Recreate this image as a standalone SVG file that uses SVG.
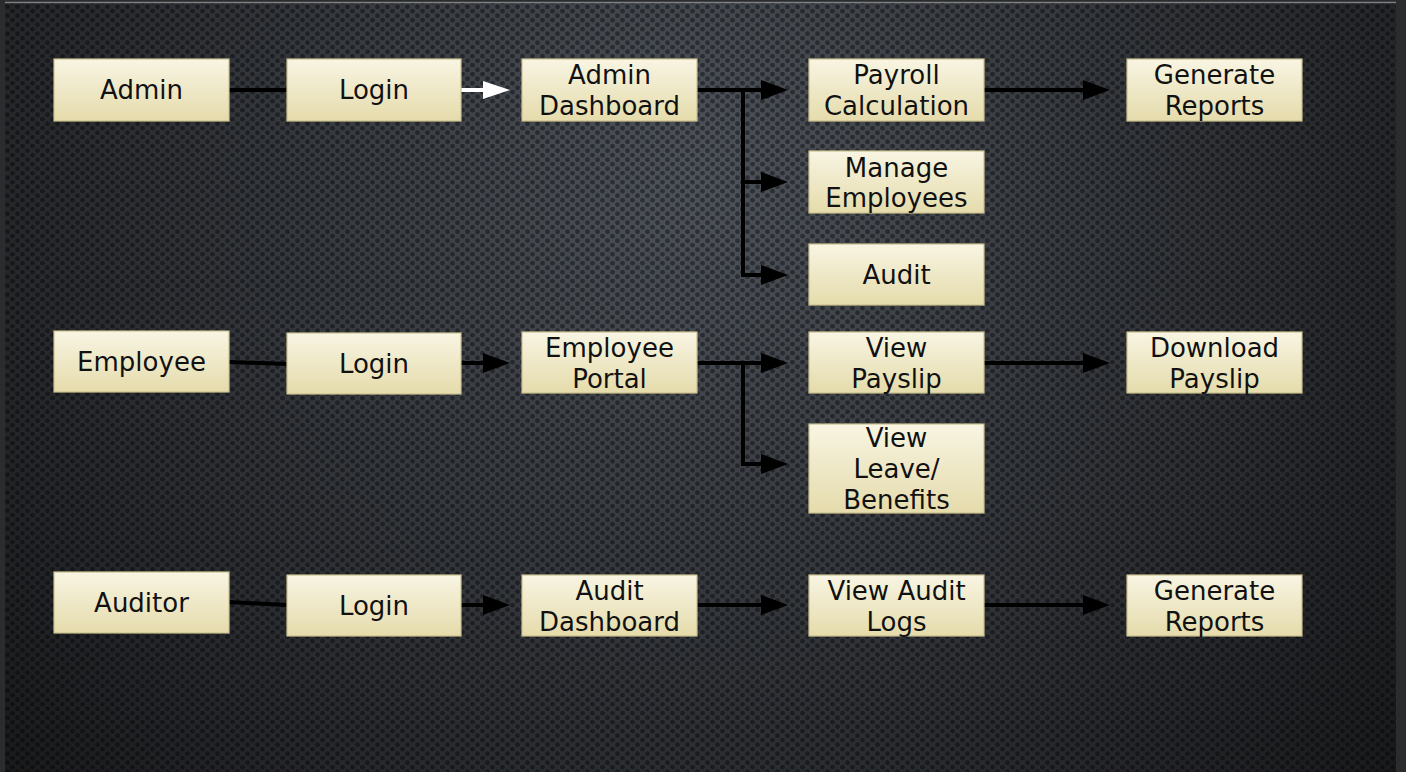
<svg xmlns="http://www.w3.org/2000/svg" width="1406" height="772" viewBox="0 0 1406 772">
<defs>
<radialGradient id="bg" cx="700" cy="180" r="950" gradientUnits="userSpaceOnUse">
<stop offset="0" stop-color="#4e535b"/>
<stop offset="0.45" stop-color="#34373c"/>
<stop offset="1" stop-color="#17181a"/>
</radialGradient>
<pattern id="dots" width="10" height="9" patternUnits="userSpaceOnUse">
<circle cx="2.5" cy="2.2" r="2.4" fill="#000" fill-opacity="0.4"/>
<circle cx="7.5" cy="6.7" r="2.4" fill="#000" fill-opacity="0.4"/>
</pattern>
<linearGradient id="box" x1="0" y1="0" x2="0" y2="1">
<stop offset="0" stop-color="#f8f5e3"/>
<stop offset="1" stop-color="#e5dbab"/>
</linearGradient>
<marker id="ah" markerUnits="userSpaceOnUse" markerWidth="28" markerHeight="22" refX="7" refY="10" orient="auto">
<path d="M0,0 L27,10 L0,20 z" fill="#000"/>
</marker>
<marker id="ahw" markerUnits="userSpaceOnUse" markerWidth="28" markerHeight="22" refX="7" refY="9" orient="auto">
<path d="M0,0 L27,9 L0,18 z" fill="#fff"/>
</marker>
</defs>
<style>
.node rect{fill:url(#box);stroke:#cbc290;stroke-width:1.2}
.node text{font-family:"DejaVu Sans",sans-serif;font-size:26px;fill:#111;text-anchor:middle}
.c{stroke:#000;stroke-width:4;fill:none}
.a{marker-end:url(#ah)}
</style>
<rect x="0" y="0" width="1406" height="772" fill="#2b2c2e"/>
<rect x="5" y="3" width="1391" height="769" fill="url(#bg)"/>
<rect x="5" y="3" width="1391" height="769" fill="url(#dots)"/>
<line x1="5" y1="2.5" x2="1396" y2="2.5" stroke="#7d7f83" stroke-width="1.5"/>

<g id="connectors">
<line class="c" x1="229" y1="90" x2="287" y2="90"/>
<line x1="461" y1="90" x2="490" y2="90" stroke="#fff" stroke-width="4" marker-end="url(#ahw)"/>
<polyline class="c" points="697,90 743,90 743,275"/>
<line class="c a" x1="697" y1="90" x2="768" y2="90"/>
<line class="c a" x1="741" y1="182" x2="768" y2="182"/>
<line class="c a" x1="741" y1="275" x2="768" y2="275"/>
<line class="c a" x1="984" y1="90" x2="1090" y2="90"/>

<line class="c" x1="229" y1="362" x2="287" y2="364"/>
<line class="c a" x1="461" y1="363" x2="490" y2="363"/>
<polyline class="c" points="697,363 743,363 743,464"/>
<line class="c a" x1="697" y1="363" x2="768" y2="363"/>
<line class="c a" x1="741" y1="464" x2="768" y2="464"/>
<line class="c a" x1="984" y1="363" x2="1090" y2="363"/>

<line class="c" x1="229" y1="602" x2="287" y2="605"/>
<line class="c a" x1="461" y1="605" x2="490" y2="605"/>
<line class="c a" x1="697" y1="605" x2="768" y2="605"/>
<line class="c a" x1="984" y1="605" x2="1090" y2="605"/>
</g>

<g id="admin" class="node"><rect x="54" y="59" width="175" height="62"/><text x="141.5" y="99">Admin</text></g>
<g id="login1" class="node"><rect x="287" y="59" width="174" height="62"/><text x="374" y="99">Login</text></g>
<g id="admin-dashboard" class="node"><rect x="522" y="59" width="175" height="62"/><text x="609.5" y="84">Admin</text><text x="609.5" y="115">Dashboard</text></g>
<g id="payroll" class="node"><rect x="809" y="59" width="175" height="62"/><text x="896.5" y="84">Payroll</text><text x="896.5" y="115">Calculation</text></g>
<g id="reports1" class="node"><rect x="1127" y="59" width="175" height="62"/><text x="1214.5" y="84">Generate</text><text x="1214.5" y="115">Reports</text></g>
<g id="manage" class="node"><rect x="809" y="151" width="175" height="62"/><text x="896.5" y="177">Manage</text><text x="896.5" y="207">Employees</text></g>
<g id="audit" class="node"><rect x="809" y="244" width="175" height="61"/><text x="896.5" y="284">Audit</text></g>

<g id="employee" class="node"><rect x="54" y="331" width="175" height="61"/><text x="141.5" y="371">Employee</text></g>
<g id="login2" class="node"><rect x="287" y="333" width="174" height="61"/><text x="374" y="373">Login</text></g>
<g id="portal" class="node"><rect x="522" y="332" width="175" height="61"/><text x="609.5" y="357">Employee</text><text x="609.5" y="388">Portal</text></g>
<g id="payslip" class="node"><rect x="809" y="332" width="175" height="61"/><text x="896.5" y="357">View</text><text x="896.5" y="388">Payslip</text></g>
<g id="download" class="node"><rect x="1127" y="332" width="175" height="61"/><text x="1214.5" y="357">Download</text><text x="1214.5" y="388">Payslip</text></g>
<g id="leave" class="node"><rect x="809" y="424" width="175" height="89"/><text x="896.5" y="447">View</text><text x="896.5" y="478">Leave/</text><text x="896.5" y="509">Benefits</text></g>

<g id="auditor" class="node"><rect x="54" y="572" width="175" height="61"/><text x="141.5" y="612">Auditor</text></g>
<g id="login3" class="node"><rect x="287" y="575" width="174" height="61"/><text x="374" y="615">Login</text></g>
<g id="audit-dashboard" class="node"><rect x="522" y="575" width="175" height="61"/><text x="609.5" y="600">Audit</text><text x="609.5" y="631">Dashboard</text></g>
<g id="audit-logs" class="node"><rect x="809" y="575" width="175" height="61"/><text x="896.5" y="600">View Audit</text><text x="896.5" y="631">Logs</text></g>
<g id="reports2" class="node"><rect x="1127" y="575" width="175" height="61"/><text x="1214.5" y="600">Generate</text><text x="1214.5" y="631">Reports</text></g>
</svg>
